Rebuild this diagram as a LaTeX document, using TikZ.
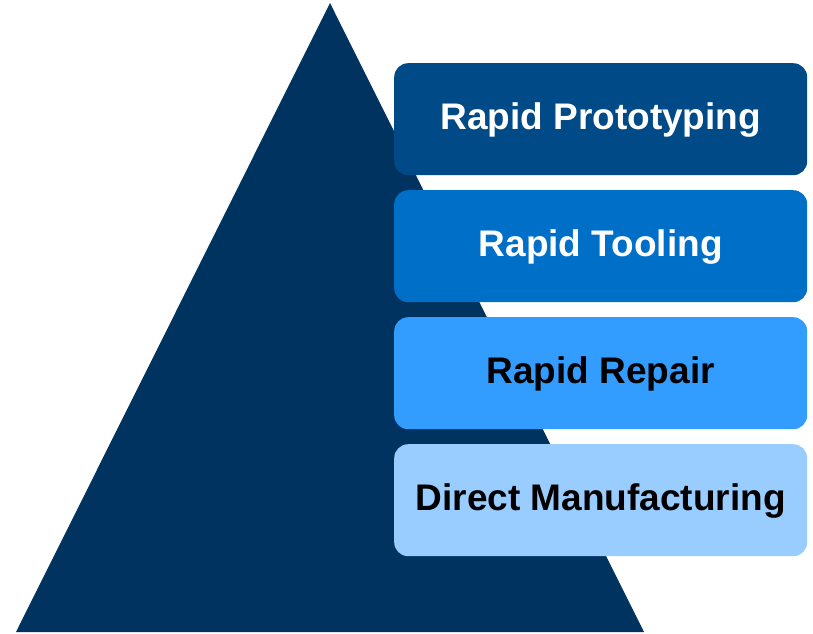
\documentclass[tikz,border=0pt]{standalone}
\usepackage{fontspec}
\setmainfont{Liberation Sans}
\definecolor{tri}{HTML}{00335F}
\definecolor{c1}{HTML}{004B87}
\definecolor{c2}{HTML}{006FC8}
\definecolor{c3}{HTML}{339CFF}
\definecolor{c4}{HTML}{99CCFF}
\tikzset{
  layer/.style={rounded corners=14pt, minimum width=413pt, minimum height=112pt, inner sep=0pt,
    text height=20pt, text depth=0pt,
    font=\fontsize{37}{42}\selectfont\bfseries, anchor=north west},
}
\begin{document}
\begin{tikzpicture}[x=1pt,y=1pt]
\useasboundingbox (0,0) rectangle (813,633);
\fill[tri] (16,1) -- (330,630) -- (644,1) -- cycle;
\node[layer, fill=c1, text=white] (rp) at (394,570) {Rapid Prototyping};
\node[layer, fill=c2, text=white] (rt) at (394,443) {Rapid Tooling};
\node[layer, fill=c3, text=black] (rr) at (394,316) {Rapid Repair};
\node[layer, fill=c4, text=black] (dm) at (394,189) {Direct Manufacturing};
\end{tikzpicture}
\end{document}
